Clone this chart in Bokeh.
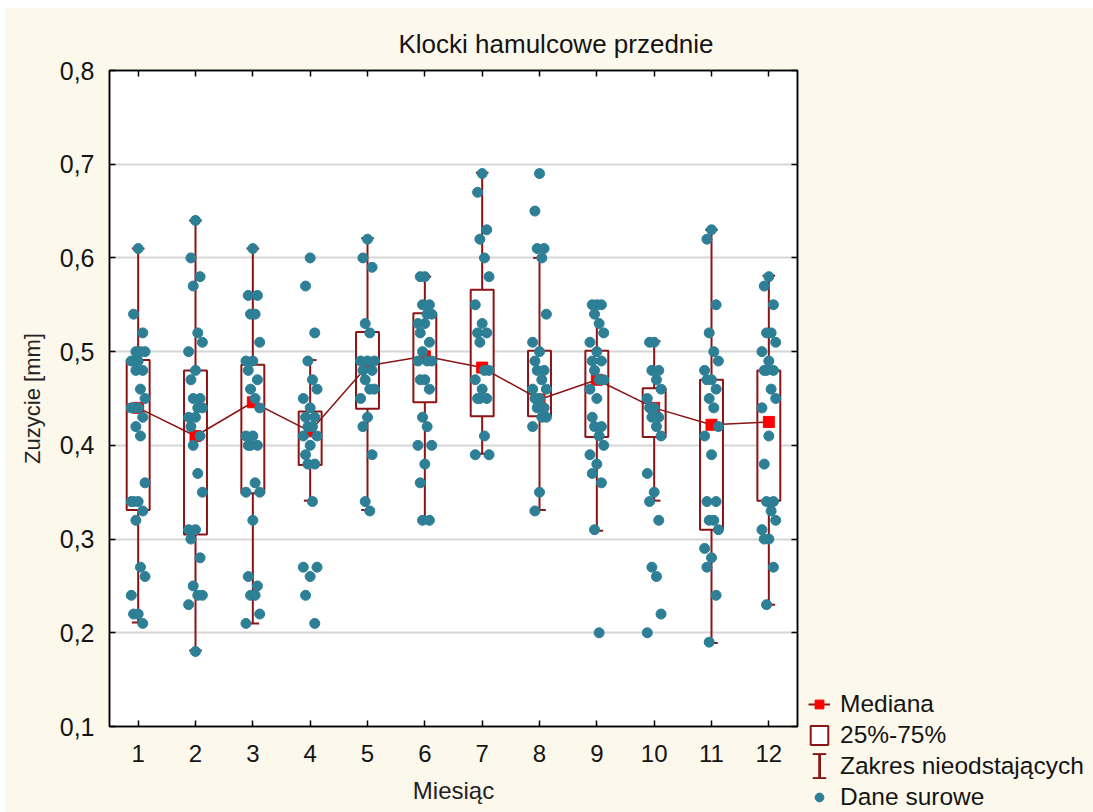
from bokeh.plotting import figure
from bokeh.layouts import row
from bokeh.models import (ColumnDataSource, FixedTicker, LinearAxis, Legend, LegendItem,
                          Range1d, CustomJSTickFormatter)
from bokeh.embed import file_html
from bokeh.resources import INLINE

# ---------------- data ----------------
months = list(range(1, 13))

q1 = [0.331, 0.305, 0.349, 0.379, 0.439, 0.446, 0.431, 0.431, 0.409, 0.409, 0.310, 0.341]
q3 = [0.491, 0.480, 0.486, 0.436, 0.521, 0.541, 0.566, 0.501, 0.501, 0.461, 0.470, 0.480]
median = [0.440, 0.410, 0.446, 0.415, 0.485, 0.495, 0.483, 0.449, 0.470, 0.440, 0.422, 0.425]
whisk_low = [0.211, 0.181, 0.210, 0.341, 0.331, 0.320, 0.391, 0.331, 0.309, 0.341, 0.189, 0.230]
whisk_high = [0.610, 0.640, 0.610, 0.491, 0.621, 0.580, 0.691, 0.600, 0.551, 0.511, 0.630, 0.581]

raw_m1 = [0.61, 0.54, 0.52, 0.50, 0.50, 0.50, 0.49, 0.49, 0.49, 0.48, 0.48, 0.46, 0.45, 0.44, 0.44,
          0.44, 0.43, 0.42, 0.41, 0.36, 0.34, 0.34, 0.34, 0.33, 0.32, 0.27, 0.26, 0.24, 0.22, 0.22, 0.21]
raw_m2 = [0.64, 0.60, 0.58, 0.57, 0.52, 0.51, 0.50, 0.48, 0.47, 0.45, 0.45, 0.44, 0.44, 0.43, 0.43,
          0.42, 0.41, 0.40, 0.37, 0.35, 0.31, 0.31, 0.30, 0.28, 0.25, 0.24, 0.24, 0.23, 0.18]
raw_m3 = [0.61, 0.56, 0.56, 0.54, 0.54, 0.51, 0.49, 0.49, 0.48, 0.47, 0.46, 0.45, 0.44, 0.41, 0.41,
          0.40, 0.40, 0.40, 0.36, 0.35, 0.35, 0.32, 0.26, 0.25, 0.24, 0.24, 0.22, 0.21]
raw_m4 = [0.60, 0.57, 0.52, 0.49, 0.47, 0.46, 0.45, 0.44, 0.43, 0.43, 0.42, 0.42, 0.41, 0.41, 0.40,
          0.39, 0.38, 0.38, 0.34, 0.27, 0.27, 0.26, 0.24, 0.21]
raw_m5 = [0.62, 0.60, 0.59, 0.53, 0.52, 0.49, 0.49, 0.49, 0.48, 0.48, 0.47, 0.46, 0.46, 0.45, 0.43,
          0.42, 0.39, 0.34, 0.33]
raw_m6 = [0.58, 0.58, 0.55, 0.55, 0.54, 0.54, 0.53, 0.53, 0.52, 0.51, 0.50, 0.49, 0.49, 0.49, 0.47,
          0.47, 0.46, 0.43, 0.42, 0.40, 0.40, 0.38, 0.36, 0.32, 0.32]
raw_m7 = [0.69, 0.67, 0.63, 0.62, 0.60, 0.58, 0.55, 0.53, 0.52, 0.52, 0.51, 0.48, 0.48, 0.47, 0.46,
          0.45, 0.45, 0.45, 0.41, 0.39, 0.39]
raw_m8 = [0.69, 0.65, 0.61, 0.61, 0.60, 0.54, 0.51, 0.50, 0.49, 0.48, 0.48, 0.47, 0.46, 0.46, 0.45,
          0.45, 0.44, 0.44, 0.43, 0.43, 0.42, 0.35, 0.33]
raw_m9 = [0.55, 0.55, 0.55, 0.54, 0.53, 0.52, 0.51, 0.50, 0.49, 0.49, 0.48, 0.47, 0.47, 0.46, 0.45,
          0.43, 0.42, 0.42, 0.41, 0.40, 0.39, 0.38, 0.37, 0.36, 0.31, 0.20]
raw_m10 = [0.51, 0.51, 0.48, 0.48, 0.47, 0.46, 0.45, 0.44, 0.44, 0.43, 0.43, 0.42, 0.41, 0.37, 0.35,
           0.34, 0.32, 0.27, 0.26, 0.22, 0.20]
raw_m11 = [0.63, 0.62, 0.55, 0.52, 0.50, 0.49, 0.48, 0.47, 0.47, 0.46, 0.45, 0.44, 0.42, 0.41, 0.39,
           0.34, 0.34, 0.32, 0.32, 0.31, 0.29, 0.28, 0.27, 0.24, 0.19]
raw_m12 = [0.58, 0.57, 0.55, 0.52, 0.52, 0.51, 0.50, 0.49, 0.48, 0.48, 0.48, 0.46, 0.45, 0.44, 0.41,
           0.38, 0.34, 0.34, 0.33, 0.32, 0.31, 0.30, 0.30, 0.27, 0.23]
raw_data = [raw_m1, raw_m2, raw_m3, raw_m4, raw_m5, raw_m6,
            raw_m7, raw_m8, raw_m9, raw_m10, raw_m11, raw_m12]

y_ticks = [0.1, 0.2, 0.3, 0.4, 0.5, 0.6, 0.7, 0.8]
legend_labels = ["Mediana", "25%-75%", "Zakres nieodstających", "Dane surowe"]

# ---------------- styles ----------------
FONT = "Liberation Sans"
DARK_RED = "#8B1414"
TEAL = "#2D7F96"
CREAM = "#FDF8EC"
TXT = "#141414"

p = figure(frame_width=688, frame_height=656,
           min_border_left=104, min_border_right=3, min_border_top=62, min_border_bottom=86,
           x_range=Range1d(0.5, 12.5), y_range=Range1d(0.1, 0.8),
           output_backend="svg", toolbar_location=None,
           title="Klocki hamulcowe przednie")
p.border_fill_color = CREAM
p.background_fill_color = "white"
p.outline_line_color = "black"
p.outline_line_width = 1.5

p.title.text_font = FONT
p.title.text_font_size = "26px"
p.title.text_font_style = "normal"
p.title.text_color = TXT
p.title.align = "left"
p.title.offset = 289
p.title.standoff = 24

p.xgrid.visible = False
p.ygrid.ticker = FixedTicker(ticks=y_ticks)
p.ygrid.grid_line_color = "#d6d6d6"
p.ygrid.grid_line_width = 2

fmt = CustomJSTickFormatter(code="return tick.toFixed(1).replace('.', ',');")

for ax in p.xaxis:
    ax.ticker = FixedTicker(ticks=months)
    ax.axis_label = "Miesiąc"
for ax in p.yaxis:
    ax.ticker = FixedTicker(ticks=y_ticks)
    ax.formatter = fmt
    ax.axis_label = "Zuzycie [mm]"

for ax in list(p.xaxis) + list(p.yaxis):
    ax.major_tick_in = 6
    ax.major_tick_out = 0
    ax.minor_tick_line_color = None
    ax.axis_line_color = "black"
    ax.axis_line_width = 1.5
    ax.major_tick_line_color = "black"
    ax.major_tick_line_width = 1.5
    ax.major_label_text_font = FONT
    ax.major_label_text_color = TXT
    ax.axis_label_text_font = FONT
    ax.axis_label_text_font_style = "normal"
    ax.axis_label_text_color = "#222222"

p.xaxis.major_label_text_font_size = "24px"
p.xaxis.major_label_standoff = 18
p.xaxis.axis_label_standoff = 12
p.xaxis.axis_label_text_font_size = "24px"
p.yaxis.major_label_text_font_size = "25px"
p.yaxis.major_label_standoff = 15
p.yaxis.axis_label_standoff = 12
p.yaxis.axis_label_text_font_size = "22px"

for place, ticks in (("above", months), ("right", y_ticks)):
    ax = LinearAxis(ticker=FixedTicker(ticks=ticks))
    ax.major_tick_in = 6
    ax.major_tick_out = 0
    ax.minor_tick_line_color = None
    ax.major_label_text_font_size = "1px"
    ax.major_label_text_color = None
    ax.major_label_standoff = 0
    ax.axis_line_width = 1.5
    ax.major_tick_line_width = 1.5
    p.add_layout(ax, place)

# ---------------- glyphs ----------------
box_src = ColumnDataSource(dict(x=months, q1=q1, q3=q3, med=median, lo=whisk_low, hi=whisk_high,
                                cl=[m - 0.11 for m in months], cr=[m + 0.11 for m in months]))

p.segment(x0="x", y0="lo", x1="x", y1="hi", source=box_src, line_color=DARK_RED, line_width=2)
p.segment(x0="cl", y0="hi", x1="cr", y1="hi", source=box_src, line_color=DARK_RED, line_width=2)
p.segment(x0="cl", y0="lo", x1="cr", y1="lo", source=box_src, line_color=DARK_RED, line_width=2)
p.vbar(x="x", width=0.4, bottom="q1", top="q3", source=box_src,
       fill_color="white", line_color=DARK_RED, line_width=2)
p.line(x="x", y="med", source=box_src, line_color=DARK_RED, line_width=1.5)
p.scatter(x="x", y="med", source=box_src, marker="square", size=11,
          fill_color="#FF0000", line_color="#FF0000")

offsets = [0.0, -0.08, 0.08, -0.04, 0.04, 0.12, -0.12]
px, py = [], []
for m, vals in zip(months, raw_data):
    for i, v in enumerate(vals):
        px.append(m + offsets[i % len(offsets)])
        py.append(v)
raw_src = ColumnDataSource(dict(x=px, y=py))
p.scatter(x="x", y="y", source=raw_src, marker="circle", size=10,
          fill_color=TEAL, line_color=TEAL)

# ---------------- legend panel (separate figure to the right) ----------------
LG_W, LG_H = 293, 804
lg = figure(frame_width=LG_W, frame_height=LG_H, min_border=0,
            x_range=Range1d(0, LG_W), y_range=Range1d(0, LG_H),
            output_backend="svg", toolbar_location=None)
lg.axis.visible = False
lg.grid.visible = False
lg.outline_line_color = None
lg.border_fill_color = CREAM
lg.background_fill_color = CREAM

# off-screen placeholder renderers that only provide the legend icons
r_med_line = lg.line(x=[-50, -40], y=[-50, -50], line_color=DARK_RED, line_width=2)
r_med_pt = lg.scatter(x=[-50], y=[-50], marker="square", size=11,
                      fill_color="#FF0000", line_color="#FF0000")
r_box = lg.vbar(x=[-50], top=[-50], bottom=[-60], width=1,
                fill_color="white", line_color=DARK_RED, line_width=2)
r_raw = lg.scatter(x=[-50], y=[-50], marker="circle", size=9, fill_color=TEAL, line_color=TEAL)
r_wh_icon = lg.scatter(x=[-50], y=[-50], marker="circle", size=1, fill_alpha=0, line_alpha=0)
r_bar = lg.vbar(x=[-50], top=[-50], bottom=[-60], width=1,
                fill_color=DARK_RED, line_color=DARK_RED, line_width=1)


def style_legend(lgd):
    lgd.background_fill_alpha = 0
    lgd.border_line_alpha = 0
    lgd.padding = 0
    lgd.margin = 0


LEG_X, LEG_Y, ROW_H, GLYPH_W = 8, 1, 31, 22
legend = Legend(items=[
    LegendItem(label=legend_labels[0], renderers=[r_med_line, r_med_pt]),
    LegendItem(label=legend_labels[1], renderers=[r_box]),
    LegendItem(label=legend_labels[2], renderers=[r_wh_icon]),
    LegendItem(label=legend_labels[3], renderers=[r_raw]),
], location=(LEG_X, LEG_Y))
style_legend(legend)
legend.spacing = 3
legend.glyph_width = GLYPH_W
legend.glyph_height = 24
legend.label_height = 22
legend.label_standoff = 10
legend.label_text_font = FONT
legend.label_text_font_size = "24.5px"
legend.label_text_color = TXT
legend.label_text_baseline = "middle"
lg.add_layout(legend)

# "I" symbol of the whisker legend entry, built from three tiny legend icons
# (a thin vertical stem and two short caps) centred on the third legend row.
wcx = LEG_X + GLYPH_W / 2
wcy = LEG_Y + 14 + ROW_H
for gw, gh, cy in ((3, 30, wcy), (16, 2, wcy + 12), (16, 2, wcy - 12)):
    part = Legend(items=[LegendItem(label=" ", renderers=[r_bar])],
                  location=(wcx - gw / 2, cy - gh / 2))
    style_legend(part)
    part.glyph_width = gw
    part.glyph_height = gh
    part.label_height = 0
    part.label_width = 0
    part.label_standoff = 0
    part.label_text_font_size = "1px"
    part.label_text_alpha = 0
    lg.add_layout(part)

layout = row(p, lg, margin=(8, 0, 0, 5), styles={"background-color": CREAM})
open("out.html", "w").write(file_html(layout, INLINE))
